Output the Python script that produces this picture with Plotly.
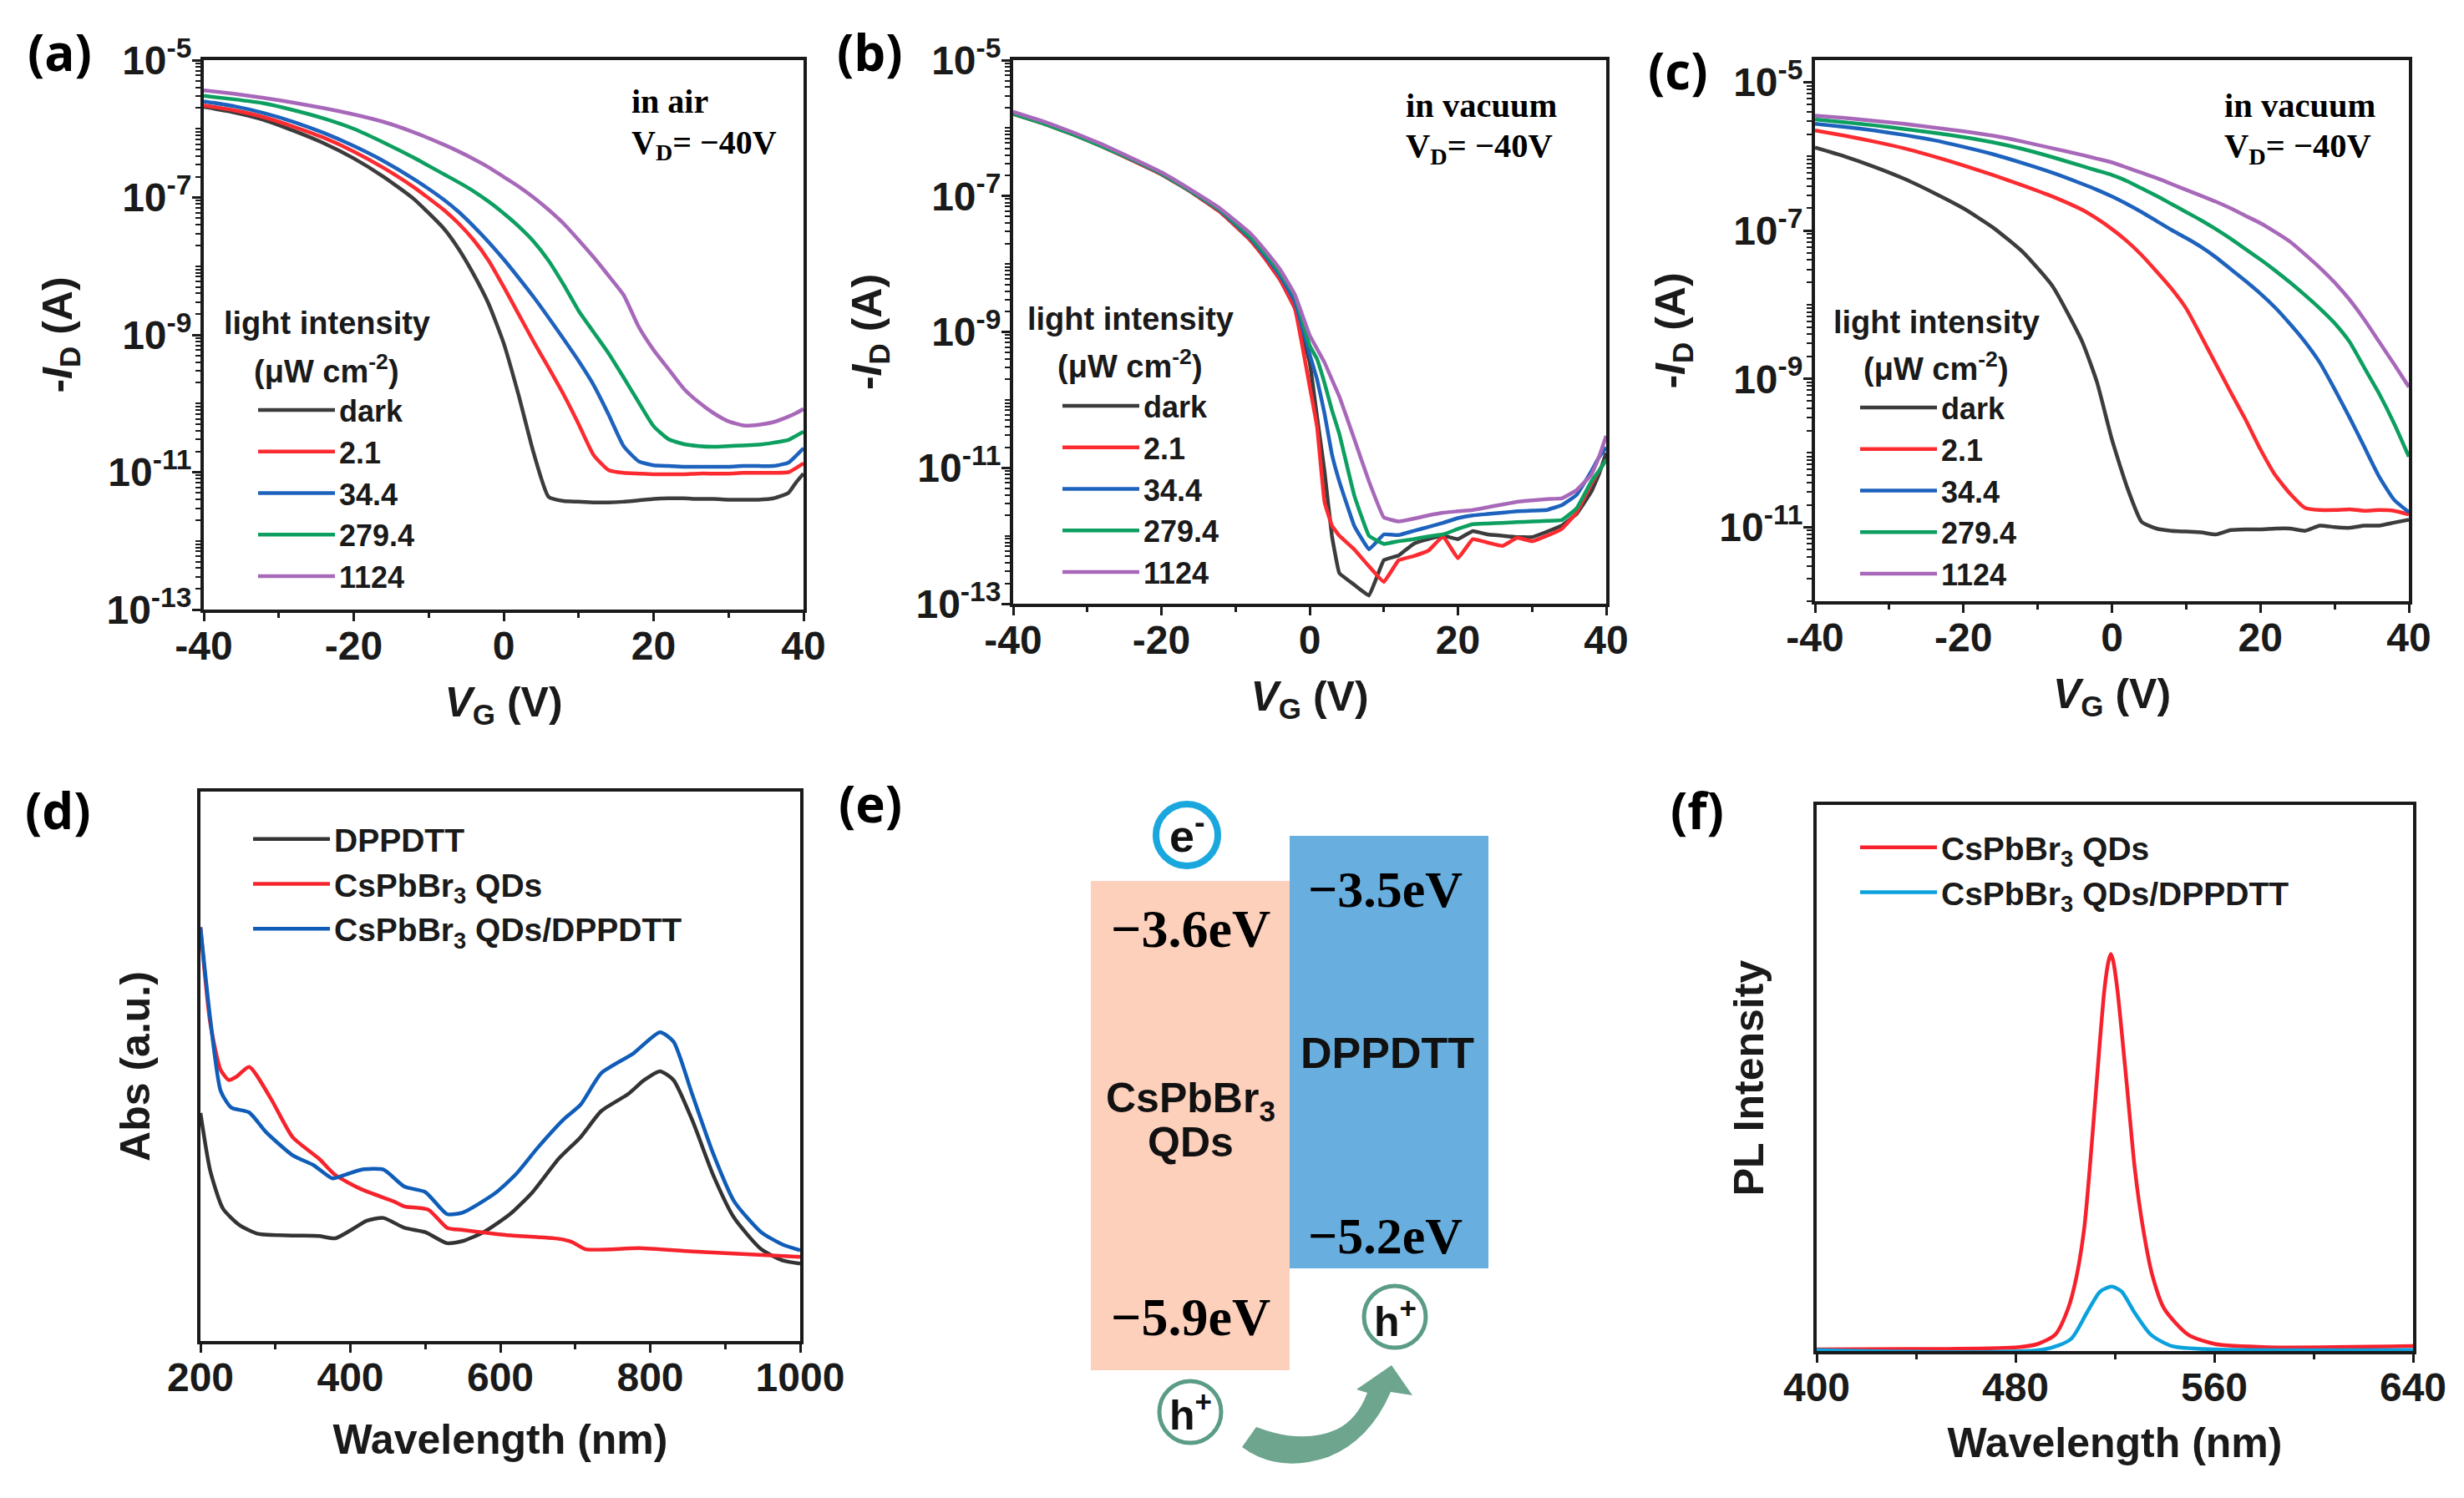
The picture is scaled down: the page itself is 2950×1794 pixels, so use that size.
import plotly.graph_objects as go

# page body has an 8px margin, so the figure is 16px smaller than the window
OFF = 8
W = 2934
H = 1778

SERIF = "Liberation Serif"
SANS = "Liberation Sans"

LEVELS = ["dark", "2.1", "34.4", "279.4", "1124"]
LEVEL_COLORS = ["#3c3c3c", "#fb2b30", "#1d62bd", "#0c9f60", "#a868ba"]

# -------- panel a: log10 of -ID (A) --------
vg_a = [-40, -36, -32, -28, -24, -20, -16, -12, -8, -6, -4, -2, 0, 2, 4, 6, 8, 10, 12, 14, 16, 18, 20, 22, 24, 26, 28, 30, 32, 34, 36, 38, 39, 40]
a_dark = [-5.68, -5.76, -5.87, -6.03, -6.21, -6.43, -6.70, -7.02, -7.45, -7.75, -8.12, -8.55, -9.12, -9.88, -10.72, -11.36, -11.42, -11.43, -11.44, -11.44, -11.43, -11.41, -11.39, -11.38, -11.38, -11.39, -11.39, -11.40, -11.40, -11.40, -11.38, -11.30, -11.15, -11.02]
a_21 = [-5.66, -5.73, -5.83, -5.97, -6.13, -6.33, -6.57, -6.85, -7.18, -7.38, -7.62, -7.92, -8.30, -8.70, -9.10, -9.48, -9.87, -10.30, -10.75, -10.97, -11.01, -11.02, -11.03, -11.03, -11.03, -11.02, -11.02, -11.02, -11.01, -11.01, -11.01, -11.0, -10.94, -10.87]
a_344 = [-5.60, -5.67, -5.77, -5.90, -6.06, -6.25, -6.47, -6.73, -7.03, -7.21, -7.42, -7.65, -7.90, -8.17, -8.45, -8.75, -9.06, -9.38, -9.73, -10.16, -10.62, -10.84, -10.90, -10.91, -10.92, -10.92, -10.92, -10.92, -10.91, -10.91, -10.91, -10.86, -10.76, -10.65]
a_279 = [-5.52, -5.57, -5.63, -5.73, -5.85, -6.0, -6.20, -6.42, -6.66, -6.78, -6.91, -7.06, -7.23, -7.42, -7.64, -7.92, -8.27, -8.65, -8.96, -9.27, -9.62, -9.98, -10.33, -10.52, -10.59, -10.62, -10.63, -10.62, -10.61, -10.60, -10.57, -10.53, -10.47, -10.41]
a_1124 = [-5.44, -5.49, -5.55, -5.62, -5.70, -5.79, -5.90, -6.05, -6.23, -6.33, -6.44, -6.56, -6.70, -6.84, -7.0, -7.18, -7.38, -7.62, -7.87, -8.14, -8.42, -8.88, -9.22, -9.50, -9.78, -9.98, -10.14, -10.26, -10.32, -10.31, -10.27, -10.19, -10.14, -10.08]

# -------- panel b --------
vg_b = [-40, -36, -32, -28, -24, -20, -16, -12, -8, -6, -4, -2, 0, 1, 2, 3, 4, 6, 8, 10, 12, 14, 16, 18, 20, 22, 24, 26, 28, 30, 32, 34, 36, 38, 39, 40]
b_dark = [-5.79, -5.93, -6.09, -6.27, -6.47, -6.68, -6.94, -7.24, -7.65, -7.92, -8.23, -8.65, -9.45, -10.25, -11.05, -12.0, -12.55, -12.72, -12.88, -12.36, -12.29, -12.12, -12.05, -12.0, -12.05, -11.93, -11.98, -12.0, -12.02, -12.02, -11.94, -11.85, -11.68, -11.35, -11.1, -10.78]
b_21 = [-5.79, -5.93, -6.09, -6.27, -6.47, -6.68, -6.94, -7.24, -7.65, -7.92, -8.23, -8.65, -9.8, -10.4, -11.5, -11.85, -12.0, -12.2, -12.45, -12.68, -12.36, -12.3, -12.22, -12.01, -12.33, -12.05, -12.1, -12.15, -12.03, -12.08, -12.0, -11.9, -11.66, -11.24, -11.05, -10.88]
b_344 = [-5.78, -5.92, -6.08, -6.26, -6.46, -6.67, -6.93, -7.22, -7.62, -7.88, -8.17, -8.55, -9.33, -9.7, -10.2, -10.8, -11.2, -11.85, -12.2, -11.98, -11.99, -11.93, -11.87, -11.81, -11.74, -11.7, -11.68, -11.66, -11.64, -11.63, -11.62, -11.55, -11.4, -11.05, -10.85, -10.7]
b_279 = [-5.79, -5.93, -6.09, -6.27, -6.46, -6.67, -6.93, -7.21, -7.6, -7.85, -8.13, -8.47, -9.2, -9.4, -9.75, -10.15, -10.5, -11.4, -12.0, -12.12, -12.08, -12.05, -12.01, -11.98, -11.9, -11.83, -11.82, -11.81, -11.8, -11.79, -11.78, -11.77, -11.6, -11.2, -11.05, -10.88]
b_1124 = [-5.76, -5.90, -6.06, -6.24, -6.44, -6.65, -6.91, -7.19, -7.55, -7.8, -8.08, -8.45, -9.05, -9.25, -9.45, -9.7, -9.95, -10.57, -11.2, -11.73, -11.79, -11.75, -11.7, -11.66, -11.64, -11.62, -11.58, -11.54, -11.5, -11.48, -11.46, -11.45, -11.33, -11.1, -10.85, -10.53]

# -------- panel c --------
vg_c = [-40, -36, -32, -28, -24, -20, -16, -12, -8, -4, -2, 0, 2, 4, 6, 8, 10, 12, 14, 16, 18, 20, 22, 24, 26, 28, 30, 32, 34, 36, 38, 40]
c_dark = [-5.88, -6.0, -6.14, -6.30, -6.49, -6.70, -6.96, -7.29, -7.75, -8.5, -9.05, -9.82, -10.45, -10.93, -11.02, -11.05, -11.06, -11.07, -11.10, -11.04, -11.03, -11.03, -11.02, -11.02, -11.05, -10.98, -11.0, -11.01, -10.98, -10.98, -10.94, -10.9]
c_21 = [-5.65, -5.72, -5.80, -5.89, -6.0, -6.12, -6.25, -6.39, -6.54, -6.72, -6.84, -6.98, -7.14, -7.33, -7.55, -7.78, -8.05, -8.42, -8.80, -9.18, -9.55, -9.95, -10.3, -10.55, -10.74, -10.77, -10.77, -10.76, -10.78, -10.77, -10.78, -10.83]
c_344 = [-5.56, -5.60, -5.65, -5.71, -5.78, -5.87, -5.97, -6.09, -6.22, -6.37, -6.45, -6.54, -6.64, -6.75, -6.87, -6.99, -7.10, -7.22, -7.36, -7.52, -7.68, -7.85, -8.04, -8.26, -8.50, -8.78, -9.14, -9.52, -9.92, -10.32, -10.63, -10.8]
c_279 = [-5.50, -5.54, -5.58, -5.63, -5.68, -5.74, -5.81, -5.90, -6.01, -6.13, -6.19, -6.25, -6.33, -6.43, -6.53, -6.64, -6.75, -6.86, -6.98, -7.11, -7.25, -7.39, -7.54, -7.70, -7.87, -8.05, -8.25, -8.5, -8.85, -9.2, -9.6, -10.05]
c_1124 = [-5.45, -5.48, -5.52, -5.56, -5.61, -5.66, -5.72, -5.80, -5.89, -5.98, -6.03, -6.08, -6.15, -6.22, -6.29, -6.37, -6.45, -6.53, -6.61, -6.7, -6.8, -6.9, -7.02, -7.15, -7.32, -7.5, -7.7, -7.93, -8.2, -8.5, -8.8, -9.11]

# -------- panel d: absorbance, a.u. --------
d_names = ["DPPDTT", "CsPbBr<sub>3</sub> QDs", "CsPbBr<sub>3</sub> QDs/DPPDTT"]
d_colors = ["#333333", "#f6232c", "#0f5db8"]
wl_dpp = [200, 213, 230, 252, 277, 323, 358, 380, 401, 422, 444, 472, 500, 529, 550, 579, 614, 643, 678, 707, 735, 770, 792, 813, 831, 856, 884, 912, 948, 976, 1000]
abs_dpp = [0.415, 0.31, 0.241, 0.211, 0.195, 0.192, 0.191, 0.187, 0.202, 0.219, 0.224, 0.206, 0.198, 0.178, 0.182, 0.199, 0.232, 0.271, 0.332, 0.371, 0.419, 0.449, 0.475, 0.491, 0.475, 0.402, 0.302, 0.224, 0.167, 0.147, 0.141]
wl_qd = [200, 213, 227, 238, 248, 265, 294, 323, 358, 380, 415, 458, 472, 504, 529, 550, 607, 678, 696, 714, 785, 856, 1000]
abs_qd = [0.753, 0.579, 0.493, 0.475, 0.481, 0.499, 0.441, 0.371, 0.332, 0.302, 0.276, 0.254, 0.245, 0.239, 0.206, 0.202, 0.193, 0.186, 0.18, 0.167, 0.169, 0.163, 0.153]
wl_mix = [200, 213, 227, 241, 265, 287, 323, 351, 376, 394, 415, 444, 472, 500, 529, 550, 593, 621, 650, 685, 707, 735, 777, 813, 831, 856, 884, 912, 948, 976, 1000]
abs_mix = [0.753, 0.587, 0.455, 0.425, 0.416, 0.381, 0.338, 0.32, 0.296, 0.303, 0.312, 0.312, 0.281, 0.271, 0.231, 0.234, 0.269, 0.304, 0.352, 0.404, 0.43, 0.488, 0.523, 0.562, 0.545, 0.449, 0.341, 0.254, 0.198, 0.176, 0.165]

# -------- panel f: PL intensity, a.u. --------
f_names = ["CsPbBr<sub>3</sub> QDs", "CsPbBr<sub>3</sub> QDs/DPPDTT"]
f_colors = ["#f6212c", "#0aa1dd"]
wl_pl_qd = [400, 453, 481, 489, 496, 501.2, 504.5, 507.7, 510, 512.6, 515.8, 517.5, 518.4, 519.3, 521, 524.8, 528, 531.3, 535, 539.8, 549.5, 560.2, 581.7, 640]
pl_qd = [0.003, 0.004, 0.007, 0.013, 0.03, 0.078, 0.135, 0.226, 0.34, 0.488, 0.662, 0.715, 0.727, 0.715, 0.662, 0.488, 0.335, 0.226, 0.14, 0.078, 0.03, 0.013, 0.007, 0.009]
wl_pl_mix = [400, 491.6, 502.3, 508.7, 514.1, 518.8, 522.7, 528, 534.5, 543, 560, 640]
pl_mix = [0.002, 0.003, 0.022, 0.07, 0.109, 0.118, 0.109, 0.07, 0.03, 0.009, 0.003, 0.002]


def px(x):
    return (x - OFF) / W


def py(y):
    return 1 - (y - OFF) / H


fig = go.Figure()

iv_sets = [
    (vg_a, [a_dark, a_21, a_344, a_279, a_1124], "", "legend", 0.5),
    (vg_b, [b_dark, b_21, b_344, b_279, b_1124], "2", "legend2", 0.25),
    (vg_c, [c_dark, c_21, c_344, c_279, c_1124], "3", "legend3", 0.5),
]
for vg, curves, ax, leg, smooth in iv_sets:
    for name, color, exps in zip(LEVELS, LEVEL_COLORS, curves):
        assert len(vg) == len(exps)
        fig.add_trace(go.Scatter(
            x=vg, y=[10 ** e for e in exps], mode="lines", name=name,
            xaxis="x" + ax, yaxis="y" + ax, legend=leg,
            line=dict(color=color, width=4.5, shape="spline", smoothing=smooth),
        ))

for name, color, wl, vals in zip(d_names, d_colors, [wl_dpp, wl_qd, wl_mix], [abs_dpp, abs_qd, abs_mix]):
    fig.add_trace(go.Scatter(x=wl, y=vals, mode="lines", name=name, xaxis="x4", yaxis="y4", legend="legend4",
                             line=dict(color=color, width=4.5, shape="spline", smoothing=0.6)))

for name, color, wl, vals in zip(f_names, f_colors, [wl_pl_qd, wl_pl_mix], [pl_qd, pl_mix]):
    fig.add_trace(go.Scatter(x=wl, y=vals, mode="lines", name=name, xaxis="x5", yaxis="y5", legend="legend5",
                             line=dict(color=color, width=4.5, shape="spline", smoothing=0.7)))

tick_font = dict(family=SANS, size=48, color="#1a1a1a", weight=700)
title_font = dict(family=SANS, size=50, color="#1a1a1a", weight=700)


def x_axis(left, right, yname, rng, major, minor, title, standoff):
    return dict(
        domain=[px(left), px(right)], anchor=yname, range=rng, tickmode="array", tickvals=major, automargin=False,
        ticktext=[str(m) for m in major], ticks="outside", ticklen=10, tickwidth=3, tickcolor="#1a1a1a",
        ticklabelstandoff=-12,
        minor=dict(tickmode="array", tickvals=minor, ticks="outside", ticklen=6, tickwidth=3, tickcolor="#1a1a1a"),
        tickfont=tick_font, showgrid=False, zeroline=False, showline=True, mirror=True,
        linecolor="#1a1a1a", linewidth=4, title=dict(text=title, font=title_font, standoff=standoff),
    )


def log_axis(top, bottom, xname, rng, labelled):
    minor = []
    low = int(rng[0]) - 1
    high = int(rng[1]) + 1
    for d in range(low, high):
        for m in range(2, 10):
            minor.append(m * 10.0 ** d)
        if d not in labelled:
            minor.append(10.0 ** d)
    return dict(
        domain=[py(bottom), py(top)], anchor=xname, type="log", range=rng, tickmode="array", automargin=False,
        tickvals=[10.0 ** d for d in labelled], ticktext=["10<sup>%d</sup>" % d for d in labelled],
        ticks="outside", ticklen=10, tickwidth=3, tickcolor="#1a1a1a", ticklabelstandoff=-9,
        minor=dict(tickmode="array", tickvals=minor, ticks="outside", ticklen=6, tickwidth=2, tickcolor="#1a1a1a"),
        tickfont=tick_font, showgrid=False, zeroline=False, showline=True, mirror=True,
        linecolor="#1a1a1a", linewidth=4,
        title=dict(text="-<i>I</i><sub>D</sub> (A)", font=title_font, standoff=26),
    )


def plain_y(top, bottom, xname, title, standoff):
    return dict(
        domain=[py(bottom), py(top)], anchor=xname, range=[0, 1], showticklabels=False, ticks="", automargin=False,
        showgrid=False, zeroline=False, showline=True, mirror=True, linecolor="#1a1a1a", linewidth=4,
        title=dict(text=title, font=title_font, standoff=standoff),
    )


vg_ticks = [-40, -20, 0, 20, 40]
vg_minor = [-30, -10, 10, 30]
vg_title = "<i>V</i><sub>G</sub> (V)"


def legend_at(x, y, size):
    return dict(x=px(x), y=py(y), xanchor="left", yanchor="top", bgcolor="rgba(0,0,0,0)",
                font=dict(family=SANS, size=size, color="#1a1a1a", weight=700), itemwidth=92,
                tracegroupgap=0, traceorder="normal", itemclick=False, itemdoubleclick=False)


fig.update_layout(
    width=W, height=H, autosize=False, margin=dict(l=0, r=0, t=0, b=0),
    paper_bgcolor="white", plot_bgcolor="white", showlegend=True,
    xaxis=x_axis(244, 962, "y", [-40, 40], vg_ticks, vg_minor, vg_title, 25),
    yaxis=log_axis(72, 730, "x", [-13, -5], [-5, -7, -9, -11, -13]),
    xaxis2=x_axis(1213, 1923, "y2", [-40, 40], vg_ticks, vg_minor, vg_title, 25),
    yaxis2=log_axis(72, 723, "x2", [-13, -5], [-5, -7, -9, -11, -13]),
    xaxis3=x_axis(2173, 2884, "y3", [-40, 40], vg_ticks, vg_minor, vg_title, 25),
    yaxis3=log_axis(72, 720, "x3", [-12, -4.7], [-5, -7, -9, -11]),
    xaxis4=x_axis(240, 958, "y4", [200, 1000], [200, 400, 600, 800, 1000], [300, 500, 700, 900], "Wavelength (nm)", 32),
    yaxis4=plain_y(948, 1606, "x4", "Abs (a.u.)", 42),
    xaxis5=x_axis(2175, 2889, "y5", [400, 640], [400, 480, 560, 640], [440, 520, 600], "Wavelength (nm)", 24),
    yaxis5=plain_y(964, 1618, "x5", "PL Intensity", 45),
    legend=legend_at(304, 461, 36),
    legend2=legend_at(1267, 456, 36),
    legend3=legend_at(2222, 458, 36),
    legend4=legend_at(298, 973, 39),
    legend5=legend_at(2222, 983, 39),
)

notes = [
    # panel letters
    ("(a)", 71, 62, "Open Sans", 60, "center", 700, "black"),
    ("(b)", 1041, 62, "Open Sans", 60, "center", 700, "black"),
    ("(c)", 2009, 84, "Open Sans", 60, "center", 700, "black"),
    ("(d)", 69, 970, "Open Sans", 60, "center", 700, "black"),
    ("(e)", 1042, 962, "Open Sans", 60, "center", 700, "black"),
    ("(f)", 2032, 970, "Open Sans", 60, "center", 700, "black"),
    # conditions
    ("in air", 754, 122, SERIF, 40, "left", 700, "black"),
    ("V<sub>D</sub>= \u221240V", 754, 173, SERIF, 40, "left", 700, "black"),
    ("in vacuum", 1681, 127, SERIF, 40.5, "left", 700, "black"),
    ("V<sub>D</sub>= \u221240V", 1681, 177, SERIF, 40.5, "left", 700, "black"),
    ("in vacuum", 2661, 127, SERIF, 40.5, "left", 700, "black"),
    ("V<sub>D</sub>= \u221240V", 2661, 177, SERIF, 40.5, "left", 700, "black"),
    # legend headings
    ("light intensity", 391, 387, SANS, 38, "center", 700, "#1a1a1a"),
    ("(\u03bcW cm<sup>-2</sup>)", 391, 442, SANS, 38, "center", 700, "#1a1a1a"),
    ("light intensity", 1353, 382, SANS, 38, "center", 700, "#1a1a1a"),
    ("(\u03bcW cm<sup>-2</sup>)", 1353, 436, SANS, 38, "center", 700, "#1a1a1a"),
    ("light intensity", 2318, 386, SANS, 38, "center", 700, "#1a1a1a"),
    ("(\u03bcW cm<sup>-2</sup>)", 2318, 439, SANS, 38, "center", 700, "#1a1a1a"),
    # band diagram
    ("\u22123.6eV", 1425, 1112, SERIF, 64, "center", 700, "black"),
    ("\u22125.9eV", 1425, 1577, SERIF, 64, "center", 700, "black"),
    ("\u22123.5eV", 1658, 1065, SERIF, 62, "center", 700, "black"),
    ("\u22125.2eV", 1658, 1480, SERIF, 62, "center", 700, "black"),
    ("DPPDTT", 1661, 1261, SANS, 52, "center", 700, "#111111"),
    ("CsPbBr<sub>3</sub>", 1425, 1318, SANS, 50, "center", 700, "#111111"),
    ("QDs", 1425, 1368, SANS, 50, "center", 700, "#111111"),
    ("e<sup>-</sup>", 1421, 997, SANS, 54, "center", 700, "#111111"),
    ("h<sup>+</sup>", 1425, 1691, SANS, 50, "center", 700, "#111111"),
    ("h<sup>+</sup>", 1670, 1579, SANS, 50, "center", 700, "#111111"),
]
for text, x, y, family, size, align, weight, color in notes:
    fig.add_annotation(text=text, x=px(x), y=py(y), xref="paper", yref="paper", showarrow=False,
                       xanchor=align, yanchor="middle",
                       font=dict(family=family, size=size, weight=weight, color=color))

# band diagram boxes and carrier rings
fig.add_shape(type="rect", xref="paper", yref="paper", x0=px(1306), x1=px(1544), y0=py(1055), y1=py(1641),
              fillcolor="#fdd0bc", line_width=0, layer="below")
fig.add_shape(type="rect", xref="paper", yref="paper", x0=px(1544), x1=px(1782), y0=py(1001), y1=py(1519),
              fillcolor="#68afe0", line_width=0, layer="below")
for cx, cy, color, lw in [(1421, 1000, "#19a7dd", 8), (1425, 1691, "#5b9c85", 5), (1670, 1577, "#5b9c85", 5)]:
    fig.add_shape(type="circle", xref="paper", yref="paper", x0=px(cx - 37), x1=px(cx + 37),
                  y0=py(cy + 37), y1=py(cy - 37), line=dict(color=color, width=lw), fillcolor="rgba(0,0,0,0)")

# curved arrow from one hole to the other
arrow = [("M", 1487, 1733), ("L", 1504, 1709),
         ("Q", 1560, 1730, 1600, 1712), ("Q", 1625, 1700, 1637, 1668),
         ("L", 1624, 1664), ("L", 1666, 1635), ("L", 1691, 1671), ("L", 1665, 1667),
         ("Q", 1640, 1725, 1590, 1745), ("Q", 1530, 1765, 1487, 1733)]
path = ""
for seg in arrow:
    coords = seg[1:]
    parts = []
    for i in range(0, len(coords), 2):
        parts.append("%.5f,%.5f" % (px(coords[i]), py(coords[i + 1])))
    path += seg[0] + " ".join(parts) + " "
fig.add_shape(type="path", xref="paper", yref="paper", path=path + "Z", fillcolor="#6ea58f", line_width=0)

fig.write_html("out.html")
